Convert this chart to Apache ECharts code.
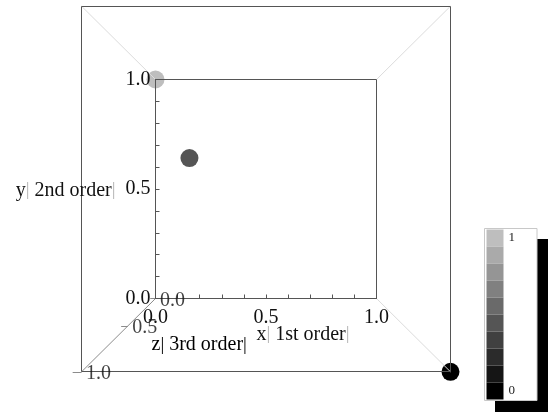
<!DOCTYPE html>
<html>
<head>
<meta charset="utf-8">
<script src="https://cdn.jsdelivr.net/npm/echarts@6/dist/echarts.min.js"></script>
<style>
  html, body { margin: 0; padding: 0; background: #fff; }
  #chart { width: 552px; height: 414px; }
</style>
</head>
<body>
<div id="chart"></div>
<script>
// Scatter points in unit-cube coordinates, plus the shade value used for colouring
const pointX = [0, 0.23, 1];
const pointY = [1, 0.61, 0];
const pointZ = [0, 0.55, 1];
const pointShade = [1, 0.45, 0];

// Labelled ticks on each axis
const xTickValues = [0, 0.5, 1];
const yTickValues = [0, 0.5, 1];
const zTickValues = [0, 0.5, 1];
const tickLabels = ['0.0', '0.5', '1.0'];

// Axis titles
const xTitle = ['x', '1st order'];
const yTitle = ['y', '2nd order'];
const zTitle = ['z', '3rd order'];

// Shade legend: bin edges, colours (low to high) and end labels
const shadeBins = [0, 0.1, 0.2, 0.3, 0.4, 0.5, 0.6, 0.7, 0.8, 0.9, 1];
const shadeColors = ['#000000', '#151515', '#2b2b2b', '#404040', '#555555',
                     '#6a6a6a', '#808080', '#959595', '#aaaaaa', '#bebebe'];
const shadeEndLabels = ['0', '1'];

// ---- view geometry ------------------------------------------------------
// Looking straight down the z axis; z = 0 is the far face, z = 1 the near face.
// Far face (the plotting frame) in pixels, and how far the near face reaches past it.
const inner = { left: 155.5, top: 79.5, width: 221, height: 219 };
const reachX = 74, reachY = 73;
const outer = {
  left: inner.left - reachX, top: inner.top - reachY,
  width: inner.width + 2 * reachX, height: inner.height + 2 * reachY
};
const NEAR_SCALE = outer.width / inner.width;
const PERSPECTIVE = 1 - 1 / NEAR_SCALE;
const viewX = [-reachX / inner.width, 1 + reachX / inner.width];
const viewY = [-reachY / inner.height, 1 + reachY / inner.height];

function project(x, y, z) {
  const s = 1 / (1 - PERSPECTIVE * z);
  return [0.5 + (x - 0.5) * s, 0.5 + (y - 0.5) * s];
}

const FONT = 'Liberation Serif';
const FRAME = '#555555';

function titleText(t) {
  return '{v|' + t[0] + '}{bar||}{v| ' + t[1] + '}{bar||}';
}
const titleRich = {
  v: { fontFamily: FONT, fontSize: 20, color: '#111' },
  bar: { fontFamily: FONT, fontSize: 19, color: '#b4b4b4' }
};

function tickFormatter(values) {
  return function (v) {
    for (let i = 0; i < values.length; i++) {
      if (Math.abs(v - values[i]) < 1e-6) return tickLabels[i];
    }
    return '';
  };
}

// projected scatter points
const pointData = pointX.map((x, i) => {
  const p = project(x, pointY[i], pointZ[i]);
  return [p[0], p[1], pointShade[i]];
});

// receding box edges (three light ones) and the z axis with its ticks
const lightEdges = [[0, 1], [1, 1], [1, 0]].map(c => ({
  coords: [project(c[0], c[1], 0), project(c[0], c[1], 1)]
}));
const zAxisSegments = [{ coords: [project(0, 0, 0), project(0, 0, 1)] }];
zTickValues.forEach(z => {
  zAxisSegments.push({ coords: [project(0, 0, z), project(-0.024, 0, z)] });
});
const zLabelData = zTickValues.map((z, i) => {
  const p = project(0, 0, z);
  return { value: [p[0], p[1]], name: tickLabels[i] };
});

const chart = echarts.init(document.getElementById('chart'), null, { renderer: 'canvas' });

chart.setOption({
  backgroundColor: '#fff',
  animation: false,
  textStyle: { fontFamily: FONT },
  grid: [
    { left: inner.left, top: inner.top, width: inner.width, height: inner.height,
      show: true, borderColor: FRAME, borderWidth: 1, z: 3 },
    { left: outer.left, top: outer.top, width: outer.width, height: outer.height,
      show: true, borderColor: FRAME, borderWidth: 1, z: 3 }
  ],
  xAxis: [
    { gridIndex: 0, type: 'value', min: 0, max: 1, interval: 0.1, z: 3,
      axisLine: { lineStyle: { color: FRAME, width: 1 } },
      axisTick: { inside: true, length: 4, lineStyle: { color: FRAME } },
      axisLabel: { formatter: tickFormatter(xTickValues), margin: 9,
                   fontFamily: FONT, fontSize: 20, color: '#111', showMinLabel: true, showMaxLabel: true },
      splitLine: { show: false },
      name: titleText(xTitle), nameLocation: 'middle', nameGap: 26, nameMoveOverlap: false,
      nameTextStyle: { rich: titleRich, padding: [0, 0, 0, 74] } },
    { gridIndex: 1, type: 'value', min: viewX[0], max: viewX[1], show: false }
  ],
  yAxis: [
    { gridIndex: 0, type: 'value', min: 0, max: 1, interval: 0.1, z: 3,
      axisLine: { lineStyle: { color: FRAME, width: 1 } },
      axisTick: { inside: true, length: 4, lineStyle: { color: FRAME } },
      axisLabel: { formatter: tickFormatter(yTickValues), margin: 5, padding: [4, 0, 0, 0],
                   fontFamily: FONT, fontSize: 20, color: '#111', showMinLabel: true, showMaxLabel: true },
      splitLine: { show: false },
      name: titleText(yTitle), nameLocation: 'middle', nameGap: 40, nameRotate: 0, nameMoveOverlap: false,
      nameTextStyle: { rich: titleRich, padding: [3, 0, 0, 0] } },
    { gridIndex: 1, type: 'value', min: viewY[0], max: viewY[1], show: false }
  ],
  visualMap: {
    type: 'piecewise',
    seriesIndex: 0,
    dimension: 2,
    pieces: shadeColors.map((c, i) => ({ min: shadeBins[i], max: shadeBins[i + 1], color: c })),
    formatter: function (lo, hi) {
      if (hi >= 1) return shadeEndLabels[1];
      if (lo <= 0) return shadeEndLabels[0];
      return '';
    },
    orient: 'vertical',
    align: 'left',
    left: 484, top: 228,
    itemWidth: 17, itemHeight: 17, itemGap: 0, itemSymbol: 'rect', textGap: 5,
    backgroundColor: '#fff', borderColor: '#c8c8c8', borderWidth: 1,
    padding: [1, 22, 1, 2],
    textStyle: { fontFamily: FONT, fontSize: 13, color: '#222' },
    selectedMode: false, hoverLink: false, z: 5
  },
  graphic: [
    { type: 'rect', shape: { x: 495, y: 239, width: 53, height: 173 },
      style: { fill: '#000' }, z: 1, silent: true },
    { type: 'text', x: outer.left + 70, y: 345, z: 4, silent: true,
      style: { text: titleText(zTitle), rich: titleRich, verticalAlign: 'middle', align: 'left' } }
  ],
  series: [
    { type: 'scatter', xAxisIndex: 1, yAxisIndex: 1, symbolSize: 18, z: 1, clip: false,
      itemStyle: { opacity: 1 },
      data: pointData, silent: true },
    { type: 'lines', coordinateSystem: 'cartesian2d', xAxisIndex: 1, yAxisIndex: 1, z: 2,
      polyline: false, silent: true, clip: false,
      lineStyle: { color: '#dcdcdc', width: 1, opacity: 1 },
      data: lightEdges },
    { type: 'lines', coordinateSystem: 'cartesian2d', xAxisIndex: 1, yAxisIndex: 1, z: 2,
      polyline: false, silent: true, clip: false,
      lineStyle: { color: '#8c8c8c', width: 1, opacity: 1 },
      data: zAxisSegments },
    { type: 'scatter', xAxisIndex: 1, yAxisIndex: 1, symbolSize: 1, z: 4, silent: true, clip: false,
      itemStyle: { color: 'rgba(0,0,0,0)' },
      label: { show: true, position: 'inside', offset: [17, 2], formatter: '{b}',
               fontFamily: FONT, fontSize: 20, color: '#111' },
      data: zLabelData }
  ]
});
</script>
</body>
</html>
